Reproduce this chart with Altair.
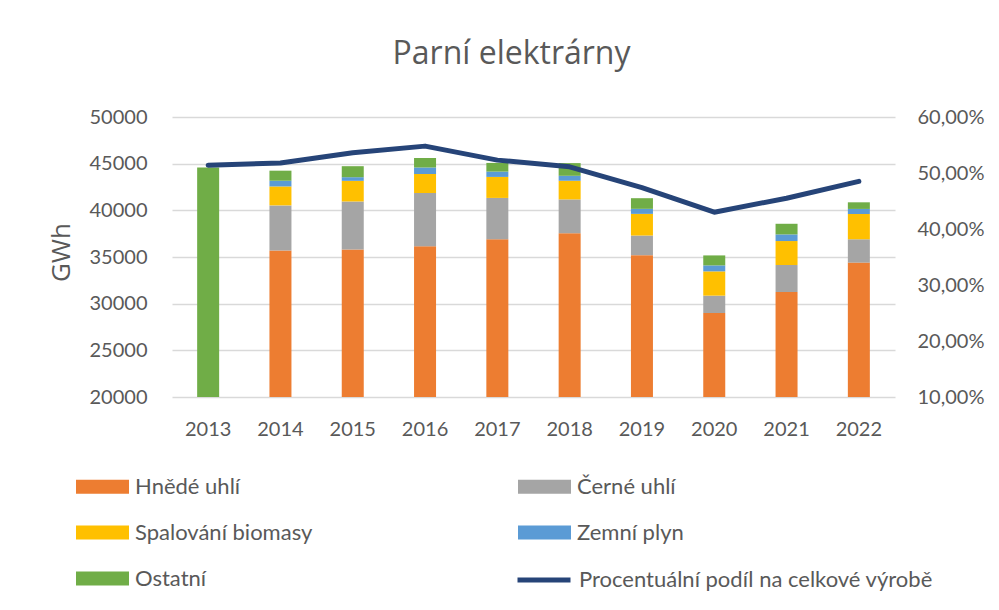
import altair as alt
import pandas as pd

years = ["2013", "2014", "2015", "2016", "2017", "2018", "2019", "2020", "2021", "2022"]
hnede_uhli = [0, 35700, 35800, 36150, 36900, 37550, 35200, 29000, 31250, 34400]
cerne_uhli = [0, 4830, 5150, 5700, 4430, 3620, 2100, 1860, 2890, 2500]
biomasa = [0, 2030, 2210, 2040, 2250, 2000, 2320, 2600, 2570, 2710]
zemni_plyn = [0, 610, 390, 710, 570, 530, 540, 640, 710, 540]
ostatni = [44600, 1080, 1180, 1000, 930, 1360, 1140, 1070, 1140, 710]
podil = [0.514, 0.518, 0.536, 0.548, 0.523, 0.511, 0.474, 0.430, 0.455, 0.485]

series = ["Hnědé uhlí", "Černé uhlí", "Spalování biomasy", "Zemní plyn", "Ostatní"]
colors = ["#ED7D31", "#A5A5A5", "#FFC000", "#5B9BD5", "#70AD47"]
line_name = "Procentuální podíl na celkové výrobě"
left_ticks = [20000, 25000, 30000, 35000, 40000, 45000, 50000]
right_ticks = [0.1, 0.2, 0.3, 0.4, 0.5, 0.6]

rows = []
for i, (name, vals) in enumerate(zip(series, [hnede_uhli, cerne_uhli, biomasa, zemni_plyn, ostatni])):
    for y, v in zip(years, vals):
        rows.append({"rok": y, "zdroj": name, "GWh": v, "poradi": i})
bars_df = pd.DataFrame(rows)
line_df = pd.DataFrame({"rok": years, "podil": podil, "serie": [line_name] * len(years)})

FONT = "Lato"
TXT = "#595959"
FS = 20
LFS = 22

x_enc = alt.X(
    "rok:N",
    sort=years,
    scale=alt.Scale(paddingInner=0, paddingOuter=0),
    axis=alt.Axis(title=None, labelAngle=0, domain=False, ticks=False, grid=False,
                  labelPadding=22, labelFontSize=FS, labelColor=TXT, labelFont=FONT),
)

bars = alt.Chart(bars_df).mark_bar(size=22, clip=True).encode(
    x=x_enc,
    y=alt.Y(
        "GWh:Q",
        stack="zero",
        scale=alt.Scale(domain=[20000, 50000], nice=False, zero=False),
        axis=alt.Axis(values=left_ticks, format="d", title="GWh", grid=True, domain=False, ticks=False,
                      labelPadding=25, labelFontSize=FS, labelColor=TXT, labelFont=FONT,
                      titleFontSize=26, titleFont="Open Sans", titleColor=TXT, titleFontWeight="normal",
                      titlePadding=15, titleY=135),
    ),
    color=alt.Color(
        "zdroj:N",
        scale=alt.Scale(domain=series, range=colors),
        legend=alt.Legend(title=None, orient="none", legendX=-96, legendY=343, columns=2,
                          direction="horizontal", columnPadding=205, rowPadding=8,
                          symbolType="M-1,-0.26H1V0.26H-1Z", symbolSize=2809, symbolStrokeWidth=0,
                          symbolOpacity=1, labelFontSize=LFS, labelFont=FONT, labelColor=TXT,
                          labelOffset=6, labelLimit=500),
    ),
    order=alt.Order("poradi:Q"),
)

line = alt.Chart(line_df).mark_line(strokeWidth=5, strokeCap="round", strokeJoin="round").encode(
    x=x_enc,
    y=alt.Y(
        "podil:Q",
        scale=alt.Scale(domain=[0.1, 0.6], nice=False, zero=False),
        axis=alt.Axis(orient="right", values=right_ticks,
                      labelExpr="replace(format(datum.value, '.2%'), '.', ',')",
                      grid=False, domain=False, ticks=False, title=None,
                      labelPadding=22, labelFontSize=FS, labelColor=TXT, labelFont=FONT),
    ),
    color=alt.Color(
        "serie:N",
        scale=alt.Scale(domain=[line_name], range=["#264478"]),
        legend=alt.Legend(title=None, orient="none", legendX=343, legendY=434,
                          symbolType="stroke", symbolSize=2809, symbolStrokeWidth=5,
                          labelFontSize=LFS, labelFont=FONT, labelColor=TXT, labelOffset=6,
                          labelLimit=500),
    ),
)

chart = alt.layer(bars, line).resolve_scale(y="independent", color="independent").properties(
    width=723,
    height=280,
    autosize=alt.AutoSizeParams(type="none"),
    padding={"left": 164, "top": 109, "right": 96, "bottom": 200},
    title=alt.Title("Parní elektrárny", fontSize=32, font="Open Sans", color=TXT, fontWeight="normal",
                    anchor="middle", frame="group", offset=36, dx=-22),
).configure_view(stroke=None).configure_axis(gridColor="#D9D9D9", gridWidth=1.5)

chart.save("out.html", embed_options={"renderer": "svg", "actions": False})
